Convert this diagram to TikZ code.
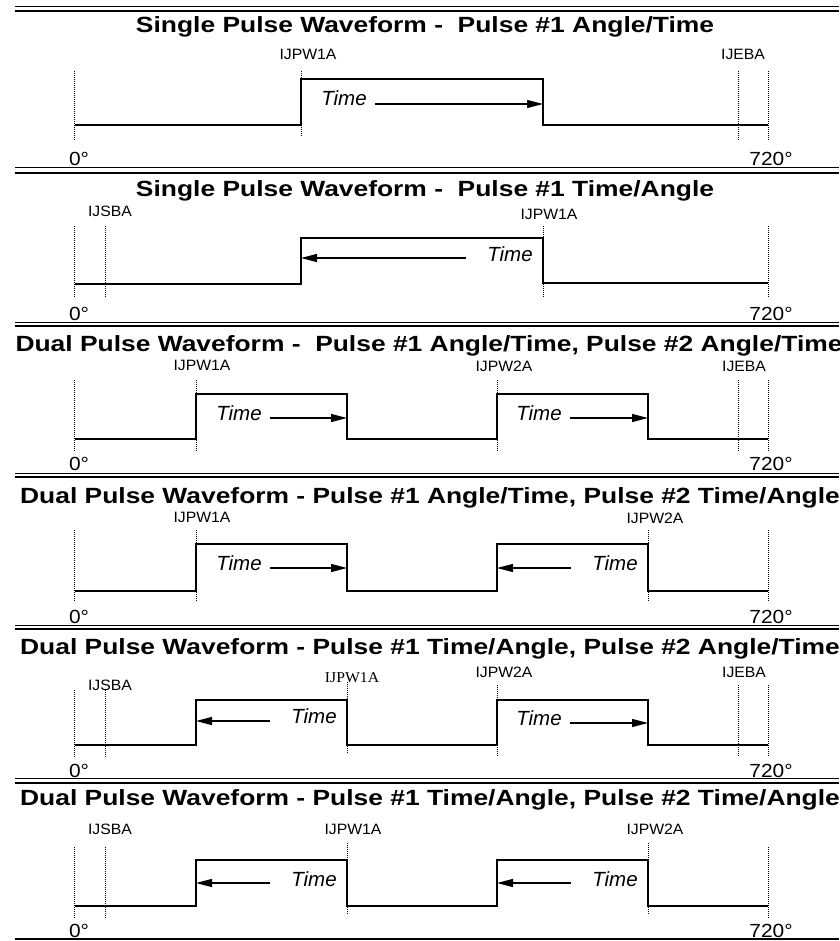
\documentclass[tikz,border=0pt]{standalone}
\usepackage{fontspec}
\setmainfont{Liberation Sans}
\newfontfamily\headfont[FakeStretch=1.2]{Liberation Sans}
\newfontfamily\tagfont[FakeStretch=1.05]{Liberation Sans}
\newfontfamily\tagserif[FakeStretch=1.05]{Liberation Serif}
\newfontfamily\degfont[FakeStretch=1.1]{Liberation Sans}
\usetikzlibrary{arrows.meta}

\begin{document}
\begin{tikzpicture}[x=1pt,y=-1pt]
  \tikzset{
    heading/.style={anchor=base,inner sep=0pt,font=\headfont\bfseries\fontsize{22}{23}\selectfont},
    tag/.style={anchor=base,inner sep=0pt,font=\tagfont\fontsize{15}{16}\selectfont},
    deg/.style={anchor=base,inner sep=0pt,font=\degfont\fontsize{19}{20}\selectfont},
    tm/.style={anchor=base,inner sep=0pt,font=\itshape\fontsize{20.5}{21}\selectfont},
    wave/.style={line width=1.3pt},
    guide/.style={line width=0.8pt,dash pattern=on 1pt off 1pt},
    rulethin/.style={line width=1pt},
    rulethick/.style={line width=1.6pt},
    tarrow/.style={line width=1.3pt,-{Triangle[length=16pt,width=8pt]}}
  }
  \useasboundingbox (0,0) rectangle (839,941);
  % separators
  \draw[rulethin] (15,7) -- (839,7);   \draw[rulethick] (15,11) -- (839,11);
  \draw[rulethin] (15,168) -- (839,168); \draw[rulethick] (15,173) -- (839,173);
  \draw[rulethin] (15,322) -- (839,322); \draw[rulethick] (15,326) -- (839,326);
  \draw[rulethin] (15,473) -- (839,473); \draw[rulethick] (15,477) -- (839,477);
  \draw[rulethin] (15,625) -- (839,625); \draw[rulethick] (15,629) -- (839,629);
  \draw[rulethin] (15,778) -- (839,778); \draw[rulethick] (15,783) -- (839,783);
  \draw[rulethick] (15,939) -- (839,939);

  % single pulse, angle/time
  \node[heading] (h1) at (425,33) {Single Pulse Waveform - \ Pulse \#1 Angle/Time};
  \node[tag] (a1pw1) at (308,60) {IJPW1A};
  \node[tag] (a1eb) at (743,60) {IJEBA};
  \draw[guide] (74,71) -- (74,140);
  \draw[guide] (301,71) -- (301,137);
  \draw[guide] (738,71) -- (738,140);
  \draw[guide] (768,71) -- (768,140);
  \draw[wave] (75,125) -- (301,125) -- (301,79) -- (543,79) -- (543,125) -- (768,125);
  \node[tm] (t1) at (344,106) {Time};
  \coordinate (e1) at (543,104);
  \draw[tarrow,shorten <=8pt] (e1 -| t1.east) -- (e1);
  \node[deg] (z1) at (79,166) {0°};
  \node[deg] (f1) at (771,166) {720°};

  % single pulse, time/angle
  \node[heading] (h2) at (425,197) {Single Pulse Waveform - \ Pulse \#1 Time/Angle};
  \node[tag] (a2sb) at (110,217) {IJSBA};
  \node[tag] (a2pw1) at (549,220) {IJPW1A};
  \draw[guide] (74,226) -- (74,297);
  \draw[guide] (105,226) -- (105,297);
  \draw[guide] (543,226) -- (543,297);
  \draw[guide] (768,226) -- (768,297);
  \draw[wave] (75,284) -- (301,284) -- (301,238) -- (543,238) -- (543,283) -- (768,283);
  \node[tm] (t2) at (510,261) {Time};
  \coordinate (e2) at (301,258);
  \draw[tarrow,shorten <=21pt] (e2 -| t2.west) -- (e2);
  \node[deg] (z2) at (79,320) {0°};
  \node[deg] (f2) at (771,320) {720°};

  % dual pulse, angle/time + angle/time
  \node[heading] (h3) at (429,351) {Dual Pulse Waveform - \ Pulse \#1 Angle/Time, Pulse \#2 Angle/Time};
  \node[tag] (a3pw1) at (202,370) {IJPW1A};
  \node[tag] (a3pw2) at (504,371) {IJPW2A};
  \node[tag] (a3eb) at (744,371) {IJEBA};
  \draw[guide] (74,380) -- (74,452);
  \draw[guide] (196,380) -- (196,452);
  \draw[guide] (497,380) -- (497,452);
  \draw[guide] (738,380) -- (738,452);
  \draw[guide] (768,380) -- (768,452);
  \draw[wave] (75,439) -- (196,439) -- (196,394) -- (347,394) -- (347,439) -- (497,439)
    -- (497,394) -- (648,394) -- (648,439) -- (768,439);
  \node[tm] (t3a) at (239,420) {Time};
  \node[tm] (t3b) at (539,420) {Time};
  \coordinate (e3a) at (347,418);
  \coordinate (e3b) at (648,418);
  \draw[tarrow,shorten <=8pt] (e3a -| t3a.east) -- (e3a);
  \draw[tarrow,shorten <=8pt] (e3b -| t3b.east) -- (e3b);
  \node[deg] (z3) at (79,470) {0°};
  \node[deg] (f3) at (771,470) {720°};

  % dual pulse, angle/time + time/angle
  \node[heading] (h4) at (430,503) {Dual Pulse Waveform - Pulse \#1 Angle/Time, Pulse \#2 Time/Angle};
  \node[tag] (a4pw1) at (202,522) {IJPW1A};
  \node[tag] (a4pw2) at (655,523) {IJPW2A};
  \draw[guide] (74,530) -- (74,602);
  \draw[guide] (196,530) -- (196,602);
  \draw[guide] (648,530) -- (648,602);
  \draw[guide] (768,530) -- (768,602);
  \draw[wave] (75,591) -- (196,591) -- (196,544) -- (347,544) -- (347,591) -- (497,591)
    -- (497,544) -- (648,544) -- (648,591) -- (768,591);
  \node[tm] (t4a) at (239,570) {Time};
  \node[tm] (t4b) at (615,570) {Time};
  \coordinate (e4a) at (347,568);
  \coordinate (e4b) at (497,568);
  \draw[tarrow,shorten <=8pt] (e4a -| t4a.east) -- (e4a);
  \draw[tarrow,shorten <=21pt] (e4b -| t4b.west) -- (e4b);
  \node[deg] (z4) at (79,623) {0°};
  \node[deg] (f4) at (771,623) {720°};

  % dual pulse, time/angle + angle/time
  \node[heading] (h5) at (430,654) {Dual Pulse Waveform - Pulse \#1 Time/Angle, Pulse \#2 Angle/Time};
  \node[tag] (a5sb) at (110,690) {IJSBA};
  \node[tag,font=\tagserif\fontsize{15}{16}\selectfont] (a5pw1) at (352,682) {IJPW1A};
  \node[tag] (a5pw2) at (504,677) {IJPW2A};
  \node[tag] (a5eb) at (744,677) {IJEBA};
  \draw[guide] (74,690) -- (74,758);
  \draw[guide] (105,690) -- (105,758);
  \draw[guide] (347,682) -- (347,753);
  \draw[guide] (497,685) -- (497,757);
  \draw[guide] (738,685) -- (738,757);
  \draw[guide] (768,685) -- (768,757);
  \draw[wave] (75,745) -- (196,745) -- (196,700) -- (347,700) -- (347,745) -- (497,745)
    -- (497,700) -- (648,700) -- (648,745) -- (768,745);
  \node[tm] (t5a) at (314,723) {Time};
  \node[tm] (t5b) at (539,725) {Time};
  \coordinate (e5a) at (196,721);
  \coordinate (e5b) at (648,723);
  \draw[tarrow,shorten <=21pt] (e5a -| t5a.west) -- (e5a);
  \draw[tarrow,shorten <=8pt] (e5b -| t5b.east) -- (e5b);
  \node[deg] (z5) at (79,777) {0°};
  \node[deg] (f5) at (771,777) {720°};

  % dual pulse, time/angle + time/angle
  \node[heading] (h6) at (430,805) {Dual Pulse Waveform - Pulse \#1 Time/Angle, Pulse \#2 Time/Angle};
  \node[tag] (a6sb) at (110,834) {IJSBA};
  \node[tag] (a6pw1) at (353,834) {IJPW1A};
  \node[tag] (a6pw2) at (655,834) {IJPW2A};
  \draw[guide] (74,847) -- (74,918);
  \draw[guide] (105,847) -- (105,918);
  \draw[guide] (347,843) -- (347,915);
  \draw[guide] (648,843) -- (648,915);
  \draw[guide] (768,847) -- (768,918);
  \draw[wave] (75,906) -- (196,906) -- (196,860) -- (347,860) -- (347,906) -- (497,906)
    -- (497,860) -- (648,860) -- (648,906) -- (768,906);
  \node[tm] (t6a) at (314,886) {Time};
  \node[tm] (t6b) at (615,886) {Time};
  \coordinate (e6a) at (196,883);
  \coordinate (e6b) at (497,883);
  \draw[tarrow,shorten <=21pt] (e6a -| t6a.west) -- (e6a);
  \draw[tarrow,shorten <=21pt] (e6b -| t6b.west) -- (e6b);
  \node[deg] (z6) at (79,937) {0°};
  \node[deg] (f6) at (771,937) {720°};
\end{tikzpicture}
\end{document}
